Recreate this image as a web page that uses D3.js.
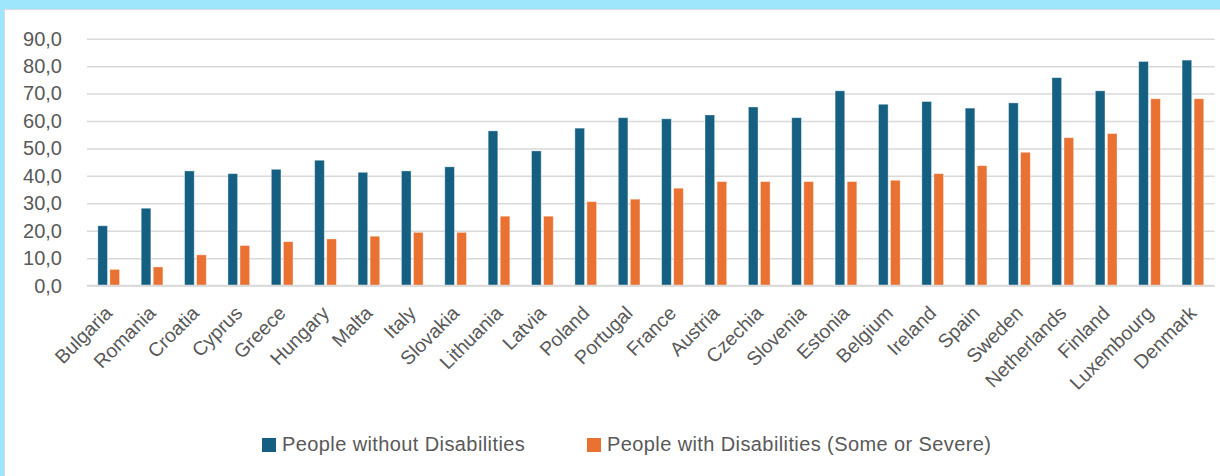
<!DOCTYPE html>
<html>
<head>
<meta charset="utf-8">
<script src="https://cdn.jsdelivr.net/npm/d3@7"></script>
<style>
  html, body { margin: 0; padding: 0; background: #9de6fb; }
  svg { display: block; }
  text { font-family: "Liberation Sans", Arial, sans-serif; fill: #595959; }
</style>
</head>
<body>
<svg id="chart"></svg>
<script>
// countries, sorted as in the source chart
var countries = ["Bulgaria","Romania","Croatia","Cyprus","Greece","Hungary","Malta","Italy",
  "Slovakia","Lithuania","Latvia","Poland","Portugal","France","Austria","Czechia","Slovenia",
  "Estonia","Belgium","Ireland","Spain","Sweden","Netherlands","Finland","Luxembourg","Denmark"];

// people without disabilities
var withoutDis = [21.8,28.2,41.8,40.8,42.4,45.7,41.3,41.8,43.3,56.4,49.1,57.4,61.2,60.8,62.2,
  65.1,61.2,71.0,66.1,67.1,64.7,66.6,75.8,71.0,81.7,82.2];

// people with disabilities (some or severe)
var withDis = [5.9,6.8,11.2,14.6,16.0,17.0,18.0,19.4,19.4,25.3,25.3,30.6,31.5,35.5,37.9,
  37.9,37.9,37.9,38.4,40.8,43.7,48.6,53.9,55.4,68.1,68.1];

var seriesNames = ["People without Disabilities","People with Disabilities (Some or Severe)"];
var seriesColors = ["#156082","#e97132"];
var yTicks = [0,10,20,30,40,50,60,70,80,90];

var screen = {width:1220, height:476};
var plot = {left:87, right:1214.6, top:38.7, bottom:285.6};

var svg = d3.select("#chart")
    .attr("width",screen.width)
    .attr("height",screen.height);

// white chart area inside the cyan frame
svg.append("rect")
    .attr("x",4.5).attr("y",9.5)
    .attr("width",screen.width).attr("height",screen.height)
    .attr("fill","#fff")
    .attr("stroke","#d9d9d9")
    .attr("stroke-width",1);

var yScale = d3.scaleLinear()
    .domain([0,90])
    .range([plot.bottom,plot.top]);

var xScale = d3.scaleBand()
    .domain(countries)
    .range([plot.left,plot.right])
    .paddingInner(0.5)
    .paddingOuter(0.25);

var xSub = d3.scaleBand()
    .domain([0,1])
    .range([0,xScale.bandwidth()])
    .paddingInner(0.2);

// gridlines + y labels
var yAxis = d3.axisLeft(yScale)
    .tickValues(yTicks)
    .tickSize(-(plot.right-plot.left))
    .tickPadding(25)
    .tickFormat(function(d){ return d3.format(".1f")(d).replace(".",","); });

var gy = svg.append("g")
    .attr("transform","translate("+plot.left+",0)")
    .call(yAxis);
gy.select(".domain").remove();
gy.selectAll(".tick line")
    .attr("stroke","#d9d9d9")
    .attr("stroke-width",1.5);
gy.selectAll(".tick text")
    .attr("font-size",20)
    .attr("fill","#595959")
    .style("font-family","'Liberation Sans', Arial, sans-serif");

// bars
var rows = countries.map(function(c,i){ return {country:c, values:[withoutDis[i],withDis[i]]}; });

var groups = svg.append("g")
    .selectAll("g")
    .data(rows)
    .enter()
    .append("g")
    .attr("transform",function(d){ return "translate("+xScale(d.country)+",0)"; });

groups.selectAll("rect")
    .data(function(d){ return d.values; })
    .enter()
    .append("rect")
    .attr("x",function(v,j){ return xSub(j); })
    .attr("y",function(v){ return yScale(v); })
    .attr("width",xSub.bandwidth())
    .attr("height",function(v){ return yScale(0)-yScale(v); })
    .attr("fill",function(v,j){ return seriesColors[j]; })
    .attr("stroke","#ffffff")
    .attr("stroke-opacity",0.45)
    .attr("stroke-width",0.8);

// baseline
svg.append("line")
    .attr("x1",plot.left).attr("x2",plot.right)
    .attr("y1",yScale(0)).attr("y2",yScale(0))
    .attr("stroke","#d9d9d9")
    .attr("stroke-width",1.6);

// x labels, rotated
var xAxis = d3.axisBottom(xScale).tickSize(0).tickPadding(0);
var gx = svg.append("g")
    .attr("transform","translate(0,"+(plot.bottom+24)+")")
    .call(xAxis);
gx.select(".domain").remove();
gx.selectAll(".tick text")
    .attr("font-size",19.5)
    .attr("fill","#595959")
    .style("font-family","'Liberation Sans', Arial, sans-serif")
    .attr("text-anchor","end")
    .attr("y",0)
    .attr("dy","0.35em")
    .attr("transform","translate(0,0) rotate(-45)");

// legend
var legendX = [262,587];
var legend = svg.append("g")
    .selectAll("g")
    .data(seriesNames)
    .enter()
    .append("g")
    .attr("transform",function(d,i){ return "translate("+legendX[i]+",438)"; });
legend.append("rect")
    .attr("width",14).attr("height",14)
    .attr("fill",function(d,i){ return seriesColors[i]; });
legend.append("text")
    .attr("x",20).attr("y",13)
    .attr("font-size",20)
    .style("letter-spacing","0.4px")
    .text(function(d){ return d; });
</script>
</body>
</html>
